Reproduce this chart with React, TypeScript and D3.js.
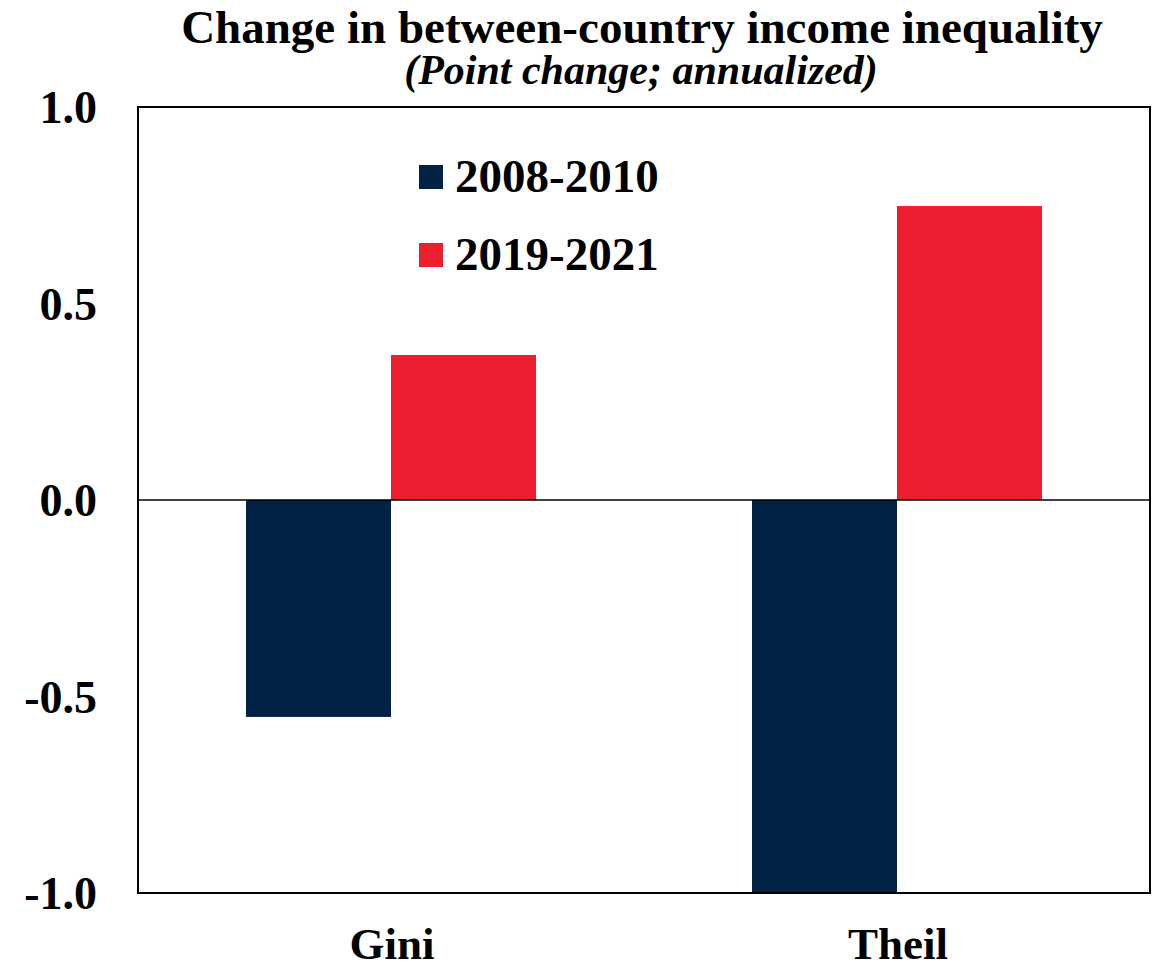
import React from "react";
import * as d3 from "d3";

const categories = ["Gini", "Theil"];
const seriesNames = ["2008-2010", "2019-2021"];
const values2008 = [-0.552, -1.0];
const values2019 = [0.369, 0.748];
const seriesColors = ["#012245", "#EC1E2F"];
const yTicks = [1.0, 0.5, 0.0, -0.5, -1.0];

const W = 1159;
const H = 970;
const FONT = "'Liberation Serif', 'Times New Roman', serif";

export default function App() {
  const left = 138, right = 1150, top = 107, bottom = 893;
  const x0 = d3.scaleBand<string>().domain(categories).range([left, right]).padding(0);
  const groupW = 290;
  const x1 = d3.scaleBand<string>().domain(seriesNames).range([0, groupW]).padding(0);
  const y = d3.scaleLinear().domain([-1, 1]).range([bottom, top]);
  const seriesVals = [values2008, values2019];
  const fmt = (t: number) => d3.format(".1f")(t).replace("\u2212", "-");

  return (
    <svg width={W} height={H} style={{ display: "block", position: "absolute", left: 0, top: 0, background: "#fff" }}>
      <rect x={0} y={0} width={W} height={H} fill="#fff" />
      <text x={(left + right) / 2 - 2} y={43} textAnchor="middle" fontFamily={FONT} fontWeight="bold" fontSize={47}>
        Change in between-country income inequality
      </text>
      <text x={(left + right) / 2 - 3} y={84} textAnchor="middle" fontFamily={FONT} fontWeight="bold" fontStyle="italic" fontSize={42}>
        (Point change; annualized)
      </text>
      {categories.map((c, ci) =>
        seriesNames.map((s, si) => {
          const v = seriesVals[si][ci];
          const bx = (x0(c) as number) + (x0.bandwidth() - groupW) / 2 + (x1(s) as number);
          const y0 = y(0), yv = y(v);
          return (
            <rect key={c + s} x={bx} y={Math.min(y0, yv)} width={x1.bandwidth()} height={Math.abs(yv - y0)} fill={seriesColors[si]} />
          );
        })
      )}
      <line x1={left} x2={right} y1={y(0)} y2={y(0)} stroke="#000" strokeWidth={1.5} />
      <rect x={left} y={top} width={right - left} height={bottom - top} fill="none" stroke="#000" strokeWidth={2} />
      {yTicks.map((t) => (
        <text key={t} x={97} y={y(t) + 16} textAnchor="end" fontFamily={FONT} fontWeight="bold" fontSize={46}>
          {fmt(t)}
        </text>
      ))}
      {categories.map((c) => (
        <text key={c} x={(x0(c) as number) + x0.bandwidth() / 2 + 1} y={959} textAnchor="middle" fontFamily={FONT} fontWeight="bold" fontSize={45}>
          {c}
        </text>
      ))}
      {seriesNames.map((s, i) => (
        <g key={s} transform={`translate(419, ${165 + i * 78})`}>
          <rect x={0} y={0} width={24} height={24} fill={seriesColors[i]} />
          <text x={36} y={27} fontFamily={FONT} fontWeight="bold" fontSize={47}>
            {s}
          </text>
        </g>
      ))}
    </svg>
  );
}
